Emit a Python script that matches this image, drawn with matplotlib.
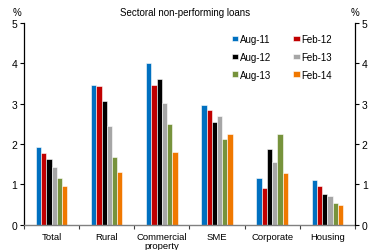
import matplotlib
matplotlib.use("Agg")
import matplotlib.pyplot as plt
import numpy as np

plt.rcParams['font.family'] = ['Liberation Sans', 'DejaVu Sans']

categories = ["Total", "Rural", "Commercial\nproperty", "SME", "Corporate", "Housing"]
series_names = ["Aug-11", "Feb-12", "Aug-12", "Feb-13", "Aug-13", "Feb-14"]
aug11 = [1.93, 3.46, 4.01, 2.98, 1.15, 1.10]
feb12 = [1.78, 3.43, 3.46, 2.85, 0.91, 0.96]
aug12 = [1.63, 3.08, 3.62, 2.55, 1.87, 0.75]
feb13 = [1.44, 2.46, 3.02, 2.70, 1.55, 0.71]
aug13 = [1.15, 1.68, 2.50, 2.12, 2.26, 0.54]
feb14 = [0.96, 1.30, 1.80, 2.25, 1.29, 0.49]
series = [aug11, feb12, aug12, feb13, aug13, feb14]
colors = ["#0070C0", "#C00000", "#000000", "#A6A6A6", "#77933C", "#F07800"]

fig = plt.figure(figsize=(3.70, 2.51), dpi=100)
ax = fig.add_axes([0.065, 0.1008, 0.894, 0.803])

x = np.arange(len(categories))
w = 0.095
handles = []
for i, (vals, c, name) in enumerate(zip(series, colors, series_names)):
    h = ax.bar(x + (i - 2.5) * w, vals, width=w, color=c, edgecolor="white",
               linewidth=0.4, label=name, zorder=2)
    handles.append(h)

ax.set_xlim(-0.5, len(categories) - 0.5)
ax.set_ylim(0, 5)
ax.set_yticks([0, 1, 2, 3, 4, 5])

ax2 = ax.twinx()
ax2.set_ylim(0, 5)
ax2.set_yticks([0, 1, 2, 3, 4, 5])

for a in (ax, ax2):
    a.spines['top'].set_visible(False)
    a.tick_params(axis='y', direction='out', length=3, width=0.8, labelsize=7.5, pad=2)
ax.spines['left'].set_linewidth(0.9)
ax2.spines['right'].set_linewidth(0.9)
ax2.spines['left'].set_visible(False)
ax2.spines['bottom'].set_visible(False)
ax.spines['right'].set_visible(False)
ax.spines['bottom'].set_color("#808080")
ax.spines['bottom'].set_linewidth(1.0)

ax.set_xticks(x)
ax.set_xticklabels(categories, fontsize=6.8, linespacing=1.0)
ax.tick_params(axis='x', length=0, pad=5)
ax.set_xticks(np.arange(-0.5, len(categories) + 0.5, 1.0), minor=True)
ax.tick_params(axis='x', which='minor', direction='out', length=3, width=0.8, color="#404040")

fig.text(0.5, 0.948, "Sectoral non-performing loans", ha='center', va='center', fontsize=7)
fig.text(0.045, 0.948, "%", ha='center', va='center', fontsize=7)
fig.text(0.96, 0.948, "%", ha='center', va='center', fontsize=7)

order = [0, 2, 4, 1, 3, 5]
leg = ax.legend([handles[i] for i in order], [series_names[i] for i in order],
                ncol=2, loc='upper left', bbox_to_anchor=(0.617, 0.965), frameon=False,
                fontsize=7, handlelength=0.65, handleheight=0.5, handletextpad=0.2,
                columnspacing=2.25, labelspacing=0.8, borderaxespad=0)

fig.savefig("out.png", dpi=100)
